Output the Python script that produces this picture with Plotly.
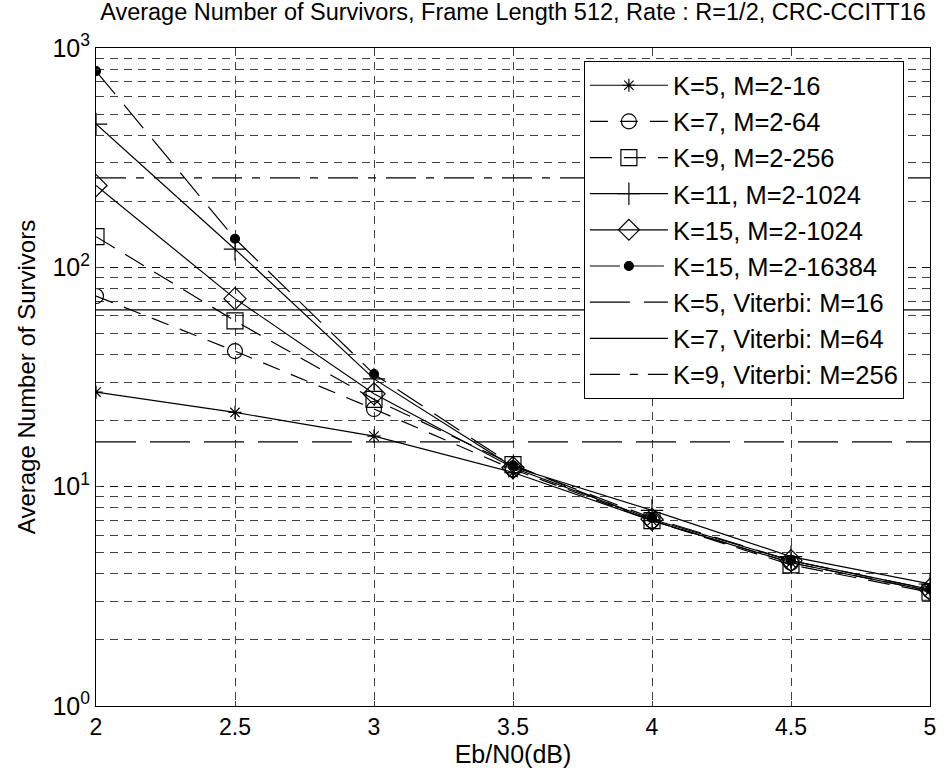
import plotly.graph_objects as go

eb_n0 = [2, 2.5, 3, 3.5, 4, 4.5, 5]
k5_m16 = [27, 21.8, 17, 11.6, 7.0, 4.5, 3.35]
k7_m64 = [74, 41.5, 22.6, 12.0, 7.0, 4.5, 3.35]
k9_m256 = [138, 57, 25, 12.6, 7.0, 4.4, 3.3]
k11_m1024 = [450, 121, 31, 12.3, 7.8, 4.8, 3.6]
k15_m1024 = [236, 72, 26.5, 12.2, 7.1, 4.6, 3.4]
k15_m16384 = [785, 135, 32.6, 12.5, 7.2, 4.6, 3.4]
viterbi_m = [16, 64, 256]
viterbi_names = ["K=5, Viterbi: M=16", "K=7, Viterbi: M=64", "K=9, Viterbi: M=256"]
y_tickvals = [1, 10, 100, 1000]
y_ticktext = ["10<sup>0</sup>", "10<sup>1</sup>", "10<sup>2</sup>", "10<sup>3</sup>"]
x_tickvals = [2, 2.5, 3, 3.5, 4, 4.5, 5]

series = [
    ("K=5, M=2-16", k5_m16, "solid", dict(symbol="asterisk-open", size=11)),
    ("K=7, M=2-64", k7_m64, "18px,12px", dict(symbol="circle-open", size=15)),
    ("K=9, M=2-256", k9_m256, "22px,12px", dict(symbol="square-open", size=16)),
    ("K=11, M=2-1024", k11_m1024, "solid", dict(symbol="cross-thin-open", size=16)),
    ("K=15, M=2-1024", k15_m1024, "solid", dict(symbol="diamond-open", size=17)),
    ("K=15, M=2-16384", k15_m16384, "30px,14px", dict(symbol="circle", size=9)),
]

fig = go.Figure()
for i, (name, vals, dash, mk) in enumerate(series):
    fig.add_trace(go.Scatter(
        x=eb_n0, y=vals, name=name, mode="lines+markers",
        line=dict(color="black", width=1.2, dash=dash),
        marker=dict(color="black", line=dict(color="black", width=1.2), **mk),
        legendgroup=f"g{i}",
    ))

v_dash = ["40px,14px", "solid", "30px,10px,8px,10px"]
for j, (m, nm) in enumerate(zip(viterbi_m, viterbi_names)):
    fig.add_trace(go.Scatter(
        x=[eb_n0[0], eb_n0[-1]], y=[m, m], name=nm, mode="lines",
        line=dict(color="black", width=1.2, dash=v_dash[j]),
        legendgroup=f"v{j}",
    ))

grid_col = "rgba(0,0,0,0.75)"
fig.update_layout(
    width=948, height=778,
    margin=dict(l=96, r=16, t=48, b=72),
    paper_bgcolor="white", plot_bgcolor="white",
    font=dict(family="Liberation Sans, Arial, sans-serif", color="black", size=22),
    title=dict(text="Average Number of Survivors, Frame Length 512, Rate : R=1/2, CRC-CCITT16",
               x=0.5, xref="paper", y=0.995, yanchor="top",
               font=dict(size=23.5)),
    showlegend=True,
    legend=dict(x=0.585, y=0.98, xanchor="left", yanchor="top",
                bgcolor="white", bordercolor="black", borderwidth=1,
                font=dict(size=25.5), itemwidth=78, tracegroupgap=0),
    xaxis=dict(range=[2, 5], tickvals=x_tickvals, showline=True, linecolor="black",
               mirror=True, ticks="inside", ticklen=5,
               showgrid=True, gridcolor=grid_col, griddash="8px,6px", gridwidth=1,
               zeroline=False, title=dict(text="Eb/N0(dB)", font=dict(size=25), standoff=6),
               tickfont=dict(size=23)),
    yaxis=dict(type="log", range=[0, 3], tickvals=y_tickvals, ticktext=y_ticktext,
               showline=True, linecolor="black", mirror=True, ticks="inside", ticklen=5,
               showgrid=True, gridcolor=grid_col, griddash="8px,6px", gridwidth=1,
               minor=dict(showgrid=True, dtick="D1", gridcolor=grid_col, griddash="8px,6px",
                          ticks="inside", ticklen=3),
               zeroline=False,
               title=dict(text="Average Number of Survivors", font=dict(size=24), standoff=10),
               tickfont=dict(size=25)),
)

fig.write_html("out.html")
